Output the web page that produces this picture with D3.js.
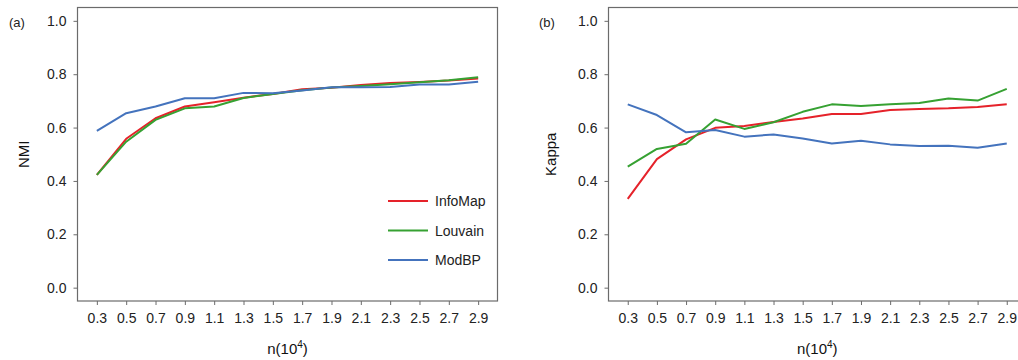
<!DOCTYPE html>
<html>
<head>
<meta charset="utf-8">
<script src="https://cdn.jsdelivr.net/npm/d3@7"></script>
<style>
  html, body { margin: 0; padding: 0; background: #fff; }
  svg { display: block; font-family: "Liberation Sans", Arial, sans-serif; }
</style>
</head>
<body>
<svg id="chart" width="1018" height="360"></svg>
<script>
// x categories, n in units of 10^4
const sizes = ['0.3', '0.5', '0.7', '0.9', '1.1', '1.3', '1.5', '1.7', '1.9', '2.1', '2.3', '2.5', '2.7', '2.9'];
const y_ticks = [0, 0.2, 0.4, 0.6, 0.8, 1.0];
const methods = ['InfoMap', 'Louvain', 'ModBP'];
const colors = ['#e5222a', '#36a132', '#4473bd'];

// panel (a): NMI
const nmi_infomap = [0.423, 0.558, 0.635, 0.679, 0.695, 0.712, 0.726, 0.744, 0.749, 0.760, 0.767, 0.771, 0.776, 0.784];
const nmi_louvain = [0.423, 0.547, 0.629, 0.672, 0.679, 0.711, 0.726, 0.740, 0.750, 0.756, 0.762, 0.770, 0.777, 0.789];
const nmi_modbp = [0.588, 0.654, 0.679, 0.710, 0.710, 0.730, 0.729, 0.739, 0.751, 0.751, 0.752, 0.761, 0.761, 0.772];

// panel (b): Kappa
const kappa_infomap = [0.333, 0.482, 0.556, 0.599, 0.606, 0.621, 0.634, 0.651, 0.651, 0.666, 0.670, 0.672, 0.677, 0.687];
const kappa_louvain = [0.454, 0.520, 0.539, 0.630, 0.595, 0.620, 0.659, 0.687, 0.681, 0.687, 0.692, 0.709, 0.701, 0.745];
const kappa_modbp = [0.687, 0.647, 0.582, 0.591, 0.566, 0.574, 0.559, 0.540, 0.551, 0.537, 0.531, 0.532, 0.524, 0.540];

const svg = d3.select('#chart');

const draw_panel = function (opts) {
  const { left, right, top, bottom, tag, tag_x, ylabel, ylabel_x, series, legend } = opts;

  const x = d3.scalePoint()
    .domain(sizes)
    .range([left, right])
    .padding(0.66);

  const y = d3.scaleLinear()
    .domain([-0.05, 1.05])
    .range([bottom, top]);

  const g = svg.append('g');

  // frame
  g.append('rect')
    .attr('x', left)
    .attr('y', top)
    .attr('width', right - left)
    .attr('height', bottom - top)
    .attr('fill', 'none')
    .attr('stroke', '#6b6b6b')
    .attr('stroke-width', 1.2);

  const y_axis = g.append('g')
    .attr('transform', `translate(${left},0)`)
    .call(d3.axisLeft(y).tickValues(y_ticks).tickFormat(d3.format('.1f')).tickSize(4).tickPadding(7));

  const x_axis = g.append('g')
    .attr('transform', `translate(0,${bottom})`)
    .call(d3.axisBottom(x).tickSize(4).tickPadding(8));

  [y_axis, x_axis].forEach(a => {
    a.select('.domain').remove();
    a.selectAll('.tick line').attr('stroke', '#6b6b6b');
    a.selectAll('.tick text')
      .attr('fill', '#222')
      .style('font-size', '14px')
      .style('font-family', '"Liberation Sans", Arial, sans-serif');
  });

  const line = d3.line()
    .x((d, i) => x(sizes[i]))
    .y(d => y(d));

  series.forEach((values, i) => {
    g.append('path')
      .datum(values)
      .attr('d', line)
      .attr('fill', 'none')
      .attr('stroke', colors[i])
      .attr('stroke-width', 2)
      .attr('stroke-linejoin', 'round');
  });

  // panel tag
  g.append('text')
    .attr('x', tag_x)
    .attr('y', 27)
    .attr('fill', '#222')
    .style('font-size', '13px')
    .text(tag);

  // y label
  g.append('text')
    .attr('transform', `translate(${ylabel_x},${(top + bottom) / 2}) rotate(-90)`)
    .attr('text-anchor', 'middle')
    .attr('fill', '#111')
    .style('font-size', '15px')
    .text(ylabel);

  // x label n(10^4), centred under the frame
  const xl = g.append('text')
    .attr('x', (left + right) / 2)
    .attr('y', 354)
    .attr('text-anchor', 'middle')
    .attr('fill', '#111')
    .style('font-size', '15px');
  xl.append('tspan').text('n(10');
  xl.append('tspan').attr('dy', -6).style('font-size', '10px').text('4');
  xl.append('tspan').attr('dy', 6).text(')');

  if (legend) {
    const lg = g.append('g')
      .attr('transform', 'translate(388,201)');
    methods.forEach((name, i) => {
      const row = lg.append('g').attr('transform', `translate(0,${i * 29.5})`);
      row.append('line')
        .attr('x1', 0)
        .attr('x2', 40)
        .attr('stroke', colors[i])
        .attr('stroke-width', 2);
      row.append('text')
        .attr('x', 47)
        .attr('dy', '0.36em')
        .attr('fill', '#222')
        .style('font-size', '14px')
        .text(name);
    });
  }
};

draw_panel({
  left: 77.5, right: 497.5, top: 7.5, bottom: 301,
  tag: '(a)', tag_x: 9, ylabel: 'NMI', ylabel_x: 29,
  series: [nmi_infomap, nmi_louvain, nmi_modbp],
  legend: true,
});

draw_panel({
  left: 608.5, right: 1026, top: 7.5, bottom: 301,
  tag: '(b)', tag_x: 539, ylabel: 'Kappa', ylabel_x: 556,
  series: [kappa_infomap, kappa_louvain, kappa_modbp],
  legend: false,
});
</script>
</body>
</html>
